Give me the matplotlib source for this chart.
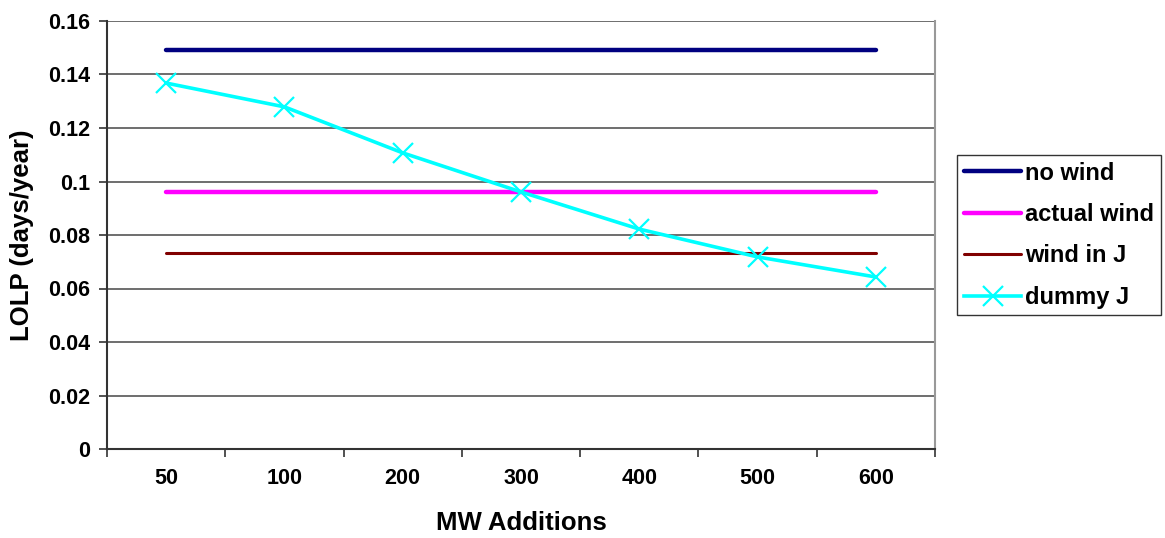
import matplotlib.pyplot as plt
import numpy as np

plt.rcParams['font.family'] = ['Liberation Sans', 'DejaVu Sans']
plt.rcParams['font.weight'] = 'bold'

# MW additions (categories) and LOLP values (days/year)
categories = ['50', '100', '200', '300', '400', '500', '600']
no_wind = [0.149] * 7
actual_wind = [0.096] * 7
wind_in_j = [0.0733] * 7
dummy_j = [0.1368, 0.1279, 0.1107, 0.0961, 0.0822, 0.0718, 0.0643]

x = np.arange(len(categories))

fig = plt.figure(figsize=(11.65, 5.38), dpi=100)
ax = fig.add_axes([107/1165, 1 - 449/538, (935-107)/1165, (449-21)/538])

ax.plot(x, no_wind, color='#000080', lw=3.2, solid_capstyle='round', label='no wind')
ax.plot(x, actual_wind, color='#FF00FF', lw=3.2, solid_capstyle='round', label='actual wind')
ax.plot(x, wind_in_j, color='#800000', lw=2.2, solid_capstyle='round', label='wind in J')
ax.plot(x, dummy_j, color='#00FFFF', lw=2.6, marker='x', markersize=15, mew=1.6,
        label='dummy J')

ax.set_xlim(-0.5, len(categories) - 0.5)
ax.set_ylim(0, 0.16)
ax.set_yticks(np.arange(0, 0.161, 0.02))
ax.set_yticklabels(['0', '0.02', '0.04', '0.06', '0.08', '0.1', '0.12', '0.14', '0.16'])
ax.yaxis.grid(True, color='#555555', lw=1.2)
ax.set_axisbelow(True)

# category axis: ticks between categories, labels centered
ax.set_xticks(np.arange(-0.5, len(categories)), minor=False)
ax.set_xticklabels([])
ax.set_xticks(x, minor=True)
ax.set_xticklabels(categories, minor=True)
ax.tick_params(axis='x', which='minor', length=0, pad=14, labelsize=15.5)
ax.tick_params(axis='x', which='major', length=6, width=1.2, color='#333333')
ax.tick_params(axis='y', length=6, width=1.2, color='#333333', labelsize=15.5, pad=6)

for side in ['left', 'bottom']:
    ax.spines[side].set_color('#333333')
    ax.spines[side].set_linewidth(1.5)
ax.spines['top'].set_visible(False)
ax.spines['right'].set_color('#999999')
ax.spines['right'].set_linewidth(1.5)

ax.set_xlabel('MW Additions', fontsize=18.5, fontweight='bold', va='center')
ax.set_ylabel('LOLP (days/year)', fontsize=18.5, fontweight='bold', va='center')
ax.xaxis.set_label_coords(0.5, -(523 - 449) / 428, transform=ax.transAxes)
ax.yaxis.set_label_coords(-(107 - 22) / 828, 0.5, transform=ax.transAxes)

leg = ax.legend(loc='upper left', bbox_to_anchor=(957/1165, 1 - 155/538),
                bbox_transform=fig.transFigure, fontsize=17, frameon=True,
                fancybox=False, edgecolor='black', handlelength=2.45,
                handletextpad=0.17, labelspacing=0.78, borderpad=0.28,
                borderaxespad=0)
leg.get_frame().set_linewidth(1.0)

fig.savefig('out.png', dpi=100)
